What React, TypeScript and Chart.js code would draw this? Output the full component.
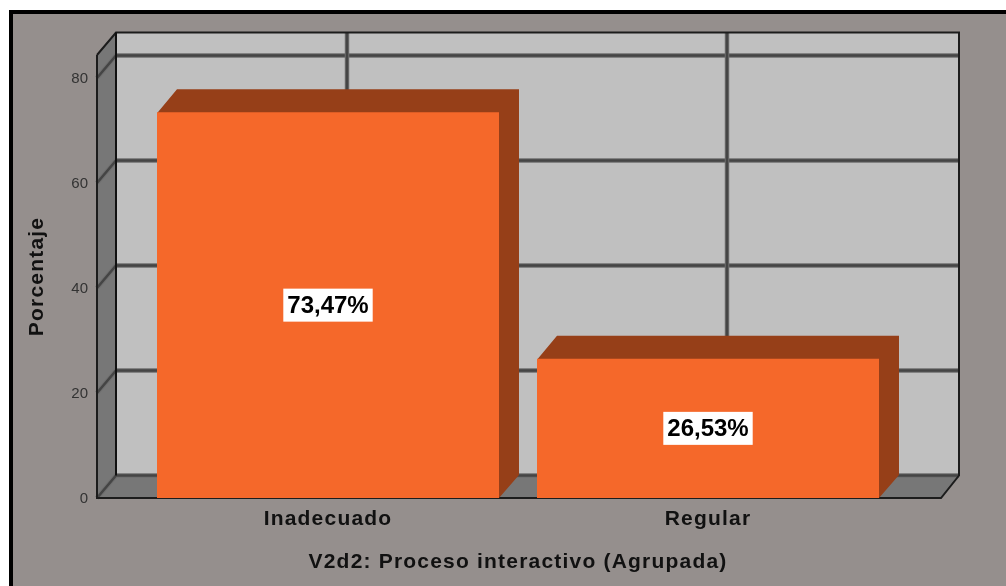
import React, { useEffect, useRef } from "react";
import { Chart, registerables } from "chart.js";

Chart.register(...registerables);

const categories = ["Inadecuado", "Regular"];
const percentages = [73.47, 26.53];
const yAxisMax = 84.38;
const yAxisStep = 20;
const xTitle = "V2d2: Proceso interactivo (Agrupada)";
const yTitle = "Porcentaje";

const FONT = '"Liberation Sans", Arial, sans-serif';
const PAGE_BG = "#958f8d";
const WALL = "#c0c0c0";
const SIDE = "#777777";
const GRID = "#454545";
const BAR_FRONT = "#f5682a";
const BAR_SHADE = "#963f18";
const OVERHANG_L = 41;
const OVERHANG_R = 43;
const DEPTH_X = 19;
const DEPTH_Y = 22.5;
const BAR_DX = 20;
const BAR_DY = 23;
const TEXT_SPACING = "1.2px";

function setSpacing(ctx: any, v: string) {
  ctx.letterSpacing = v;
}

const scenePlugin = {
  id: "scene3d",
  beforeDraw(chart: any) {
    const ctx = chart.ctx;
    ctx.save();
    ctx.fillStyle = "#ffffff";
    ctx.fillRect(0, 0, chart.width, chart.height);
    ctx.fillStyle = "#000000";
    ctx.fillRect(9, 10, chart.width - 9, chart.height - 10);
    ctx.fillStyle = PAGE_BG;
    ctx.fillRect(13, 14, chart.width - 13, chart.height - 14);
    ctx.restore();

    setSpacing(ctx, TEXT_SPACING);
    const y = chart.scales.y;
    if (!y.__wrapped) {
      const orig = y.drawLabels;
      y.drawLabels = function (a: any) {
        setSpacing(ctx, "0px");
        orig.call(this, a);
        setSpacing(ctx, TEXT_SPACING);
      };
      y.__wrapped = true;
    }
  },
  beforeDatasetsDraw(chart: any) {
    const ctx = chart.ctx;
    const { chartArea: a, scales } = chart;
    const L = a.left - OVERHANG_L;
    const R = a.right + OVERHANG_R;
    const T = a.top;
    const B = a.bottom;
    const bl = L + DEPTH_X;
    const br = R + 18;
    const bt = T - DEPTH_Y;
    const bb = B - DEPTH_Y;

    ctx.save();
    setSpacing(ctx, "0px");
    ctx.fillStyle = WALL;
    ctx.fillRect(bl, bt, br - bl, bb - bt);

    ctx.fillStyle = SIDE;
    ctx.beginPath();
    ctx.moveTo(L, T);
    ctx.lineTo(bl, bt);
    ctx.lineTo(bl, bb);
    ctx.lineTo(L, B);
    ctx.closePath();
    ctx.fill();
    ctx.beginPath();
    ctx.moveTo(L, B);
    ctx.lineTo(bl, bb);
    ctx.lineTo(br, bb);
    ctx.lineTo(R, B);
    ctx.closePath();
    ctx.fill();

    const stroke = (pts: number[][], color: string, w: number) => {
      ctx.strokeStyle = color;
      ctx.lineWidth = w;
      ctx.beginPath();
      pts.forEach((p, i) => (i ? ctx.lineTo(p[0], p[1]) : ctx.moveTo(p[0], p[1])));
      ctx.stroke();
    };

    scales.y.ticks.forEach((t: any) => {
      const py = scales.y.getPixelForValue(t.value);
      stroke([[L, py], [bl, py - DEPTH_Y], [br, py - DEPTH_Y]], "#6f6f6f", 4.5);
      stroke([[L, py], [bl, py - DEPTH_Y], [br, py - DEPTH_Y]], GRID, 2.5);
    });
    categories.forEach((_, i) => {
      const px = scales.x.getPixelForValue(i) + DEPTH_X;
      stroke([[px, bt], [px, bb]], "#6f6f6f", 4.5);
      stroke([[px, bt], [px, bb]], GRID, 2.5);
    });

    stroke([[L, T], [bl, bt], [br, bt], [br, bb], [R, B], [L, B], [L, T]], "#1c1c1c", 2);
    stroke([[bl, bt], [bl, bb]], "#111111", 2);

    chart.getDatasetMeta(0).data.forEach((bar: any) => {
      const hw = bar.width / 2;
      const l = bar.x - hw;
      const r = bar.x + hw;
      const t = bar.y;
      const b = bar.base;
      ctx.fillStyle = BAR_SHADE;
      ctx.beginPath();
      ctx.moveTo(l, t + 1);
      ctx.lineTo(l + BAR_DX, t - BAR_DY);
      ctx.lineTo(r + BAR_DX, t - BAR_DY);
      ctx.lineTo(r + BAR_DX, b - BAR_DY);
      ctx.lineTo(r, b);
      ctx.lineTo(r - 1, t + 1);
      ctx.closePath();
      ctx.fill();
    });
    ctx.restore();
  },
  afterDatasetsDraw(chart: any) {
    const ctx = chart.ctx;
    const bars = chart.getDatasetMeta(0).data;
    ctx.save();
    setSpacing(ctx, "0px");
    bars.forEach((bar: any, i: number) => {
      const text = percentages[i].toFixed(2).replace(".", ",") + "%";
      ctx.font = `bold 24px ${FONT}`;
      const w = ctx.measureText(text).width + 8;
      const cy = (bar.y + bar.base) / 2;
      ctx.fillStyle = "#ffffff";
      ctx.fillRect(bar.x - w / 2, cy - 16.5, w, 33);
      ctx.fillStyle = "#000000";
      ctx.textAlign = "center";
      ctx.textBaseline = "middle";
      ctx.fillText(text, bar.x, cy + 1);
    });
    ctx.restore();
  },
};

export default function App() {
  const ref = useRef<HTMLCanvasElement>(null);
  useEffect(() => {
    if (!ref.current) return;
    const chart = new Chart(ref.current, {
      type: "bar",
      data: {
        labels: categories,
        datasets: [
          {
            data: percentages,
            backgroundColor: BAR_FRONT,
            borderWidth: 0,
            categoryPercentage: 0.9,
            barPercentage: 1,
          },
        ],
      },
      plugins: [scenePlugin],
      options: {
        responsive: false,
        animation: false,
        devicePixelRatio: 1,
        layout: { autoPadding: false, padding: { left: 0, right: 108, top: 55, bottom: 0 } },
        plugins: { legend: { display: false }, title: { display: false }, tooltip: { enabled: false } },
        scales: {
          x: {
            afterFit: (s: any) => {
              s.height = 88;
            },
            grid: { display: false, drawTicks: false },
            border: { display: false },
            ticks: {
              color: "#111111",
              font: { family: FONT, size: 21, weight: "bold" },
              padding: 9,
              maxRotation: 0,
              autoSkip: false,
            },
            title: {
              display: true,
              text: xTitle,
              color: "#111111",
              font: { family: FONT, size: 21, weight: "bold" },
              padding: { top: 0, bottom: 11 },
            },
          },
          y: {
            min: 0,
            max: yAxisMax,
            afterFit: (s: any) => {
              s.width = 138;
              s.paddingTop = 0;
              s.paddingBottom = 0;
            },
            grid: { display: false, drawTicks: true, tickLength: 50 },
            border: { display: false },
            ticks: {
              stepSize: yAxisStep,
              includeBounds: false,
              color: "#333333",
              font: { family: FONT, size: 15 },
              padding: 0,
              labelOffset: 1,
            },
            title: {
              display: true,
              text: yTitle,
              color: "#111111",
              font: { family: FONT, size: 21, weight: "bold" },
              padding: { top: 25, bottom: 0 },
            },
          },
        },
      },
    } as any);
    return () => chart.destroy();
  }, []);
  return (
    <div style={{ position: "absolute", left: 0, top: 0 }}>
      <canvas ref={ref} width={1006} height={586} style={{ display: "block" }} />
    </div>
  );
}
